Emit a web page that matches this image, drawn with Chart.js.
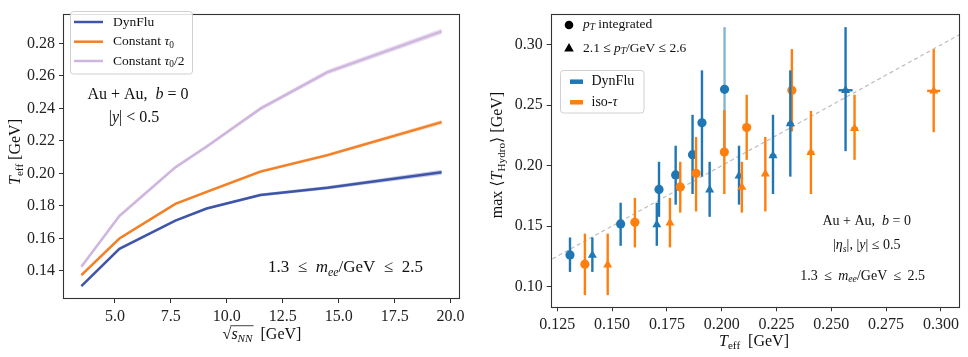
<!DOCTYPE html>
<html><head><meta charset="utf-8">
<script src="https://cdn.jsdelivr.net/npm/chart.js@4.4.1/dist/chart.umd.min.js"></script>
<style>
html,body{margin:0;padding:0;background:#fff;}
#wrap{position:relative;width:968px;height:357px;overflow:hidden;}
#c1{position:absolute;left:0;top:0;}
#c2{position:absolute;left:480px;top:0;}
</style></head><body>
<div id="wrap">
<canvas id="c1" width="480" height="357" style="width:480px;height:357px"></canvas>
<canvas id="c2" width="488" height="357" style="width:488px;height:357px"></canvas>
</div>
<script>
// ---------------- DATA (left panel) ----------------
const energies   = [3.5, 5.2, 7.7, 9.1, 11.5, 14.5, 19.6];
const tDynFlu    = [0.1306, 0.1536, 0.1709, 0.1784, 0.1867, 0.1912, 0.2007];
const tConst     = [0.1374, 0.1599, 0.1812, 0.1886, 0.2011, 0.2112, 0.2315];
const tConstHalf = [0.1426, 0.1738, 0.2037, 0.2165, 0.2398, 0.2623, 0.2874];
const bandDynFlu    = [0.0005, 0.0006, 0.0007, 0.0008, 0.0009, 0.0011, 0.0015];
const bandConst     = [0.0005, 0.0006, 0.0007, 0.0008, 0.0009, 0.0010, 0.0013];
const bandConstHalf = [0.0007, 0.0008, 0.0009, 0.0010, 0.0012, 0.0014, 0.0018];
const xTicksL = [5.0, 7.5, 10.0, 12.5, 15.0, 17.5, 20.0];
const yTicksL = [0.14, 0.16, 0.18, 0.20, 0.22, 0.24, 0.26, 0.28];

// ---------------- DATA (right panel) ----------------
const dynCircT  = [0.1308, 0.1539, 0.1714, 0.1790, 0.1867, 0.1910, 0.2013];
const dynCircY  = [0.1261, 0.1517, 0.1803, 0.1923, 0.2091, 0.2355, 0.2632];
const dynCircLo = [0.1120, 0.1336, 0.1576, 0.1677, 0.1765, 0.1909, 0.2117];
const dynCircHi = [0.1405, 0.1693, 0.2032, 0.2165, 0.2421, 0.2789, 0.3147];

const dynTriT   = [0.1410, 0.1704, 0.1945, 0.2079, 0.2234, 0.2313, 0.2565];
const dynTriY   = [0.1259, 0.1512, 0.1800, 0.1915, 0.2083, 0.2347, 0.2624];
const dynTriLo  = [0.1120, 0.1336, 0.1576, 0.1677, 0.1765, 0.1909, 0.2120];
const dynTriHi  = [0.1405, 0.1693, 0.2032, 0.2165, 0.2421, 0.2789, 0.3147];
const dynTriXerr= [0, 0, 0, 0, 0.0015, 0.0015, 0.0032];

const isoCircT  = [0.1376, 0.1604, 0.1811, 0.1883, 0.2012, 0.2114, 0.2320];
const isoCircY  = [0.1184, 0.1531, 0.1824, 0.1936, 0.2112, 0.2315, 0.2624];
const isoCircLo = [0.0928, 0.1323, 0.1611, 0.1621, 0.1765, 0.2048, 0.2283];
const isoCircHi = [0.1437, 0.1733, 0.2032, 0.2237, 0.2459, 0.2587, 0.2965];

const isoTriT   = [0.1480, 0.1764, 0.2092, 0.2199, 0.2407, 0.2606, 0.2967];
const isoTriY   = [0.1179, 0.1525, 0.1821, 0.1931, 0.2109, 0.2309, 0.2619];
const isoTriLo  = [0.0928, 0.1323, 0.1611, 0.1621, 0.1765, 0.2048, 0.2277];
const isoTriHi  = [0.1437, 0.1733, 0.2032, 0.2237, 0.2453, 0.2587, 0.2965];
const isoTriXerr= [0, 0, 0, 0, 0.0015, 0.0015, 0.0030];

const diagonal = [0.12, 0.31];
const xTicksR = [0.125, 0.150, 0.175, 0.200, 0.225, 0.250, 0.275, 0.300];
const yTicksR = [0.10, 0.15, 0.20, 0.25, 0.30];

// ---------------- helpers ----------------
const SERIF = '"Liberation Serif", "DejaVu Serif", serif';
function rich(ctx, segs, x, y, align, size) {
  let w = 0;
  const parts = segs.map(s => {
    const [t, st, over] = s;
    const sub = st[0] === 's';
    const fs = sub ? size * 0.7 : size;
    const it = st.endsWith('i');
    const font = (it ? 'italic ' : '') + fs.toFixed(1) + 'px ' + SERIF;
    ctx.font = font;
    const wd = ctx.measureText(t).width;
    w += wd;
    return {t, font, wd, dy: sub ? size * 0.28 : 0, over};
  });
  let cx = align === 'center' ? x - w / 2 : (align === 'right' ? x - w : x);
  ctx.textBaseline = 'middle';
  ctx.textAlign = 'left';
  let ovStart = null, ovEnd = null;
  parts.forEach(p => {
    ctx.font = p.font;
    ctx.fillText(p.t, cx, y + p.dy);
    if (p.over) { if (ovStart === null) ovStart = cx; ovEnd = cx + p.wd; }
    cx += p.wd;
  });
  if (ovStart !== null) {
    ctx.save(); ctx.lineWidth = 0.8; ctx.strokeStyle = ctx.fillStyle;
    ctx.beginPath(); ctx.moveTo(ovStart - 1, y - size * 0.58); ctx.lineTo(ovEnd + 1, y - size * 0.58); ctx.stroke();
    ctx.restore();
  }
  return w;
}
function richRot(ctx, segs, x, y, size) {
  ctx.save(); ctx.translate(x, y); ctx.rotate(-Math.PI / 2);
  rich(ctx, segs, 0, 0, 'center', size);
  ctx.restore();
}
const framePlugin = {
  id: 'frame',
  afterDatasetsDraw(chart) {
    const a = chart.chartArea, ctx = chart.ctx;
    ctx.save(); ctx.strokeStyle = '#333'; ctx.lineWidth = 1.1;
    ctx.strokeRect(Math.round(a.left) + 0.5, Math.round(a.top) + 0.5, Math.round(a.right - a.left) - 1, Math.round(a.bottom - a.top) - 1);
    ctx.restore();
  }
};
function axisCommon(min, max, ticks, fmt, isX, size) {
  return {
    type: 'linear', min, max,
    afterBuildTicks: s => { s.ticks = ticks.map(v => ({value: v})); },
    afterFit: s => { if (isX) s.height = size; else s.width = size; },
    ticks: { font: {family: SERIF, size: 16}, color: '#222', padding: 4, maxRotation: 0, autoSkip: false, callback: v => v.toFixed(fmt) },
    grid: { display: true, drawOnChartArea: false, drawTicks: true, tickLength: 4, tickColor: '#333', tickWidth: 1 },
    border: { display: false }
  };
}

// ---------------- LEFT CHART ----------------
const cBlue = '#3f56a8', cOrange = '#f37f26', cLav = '#cfb6de';
function pts(ys, d, sign) { return energies.map((e, i) => ({x: e, y: ys[i] + (d ? sign * d[i] : 0)})); }
function bandSets(ys, band, col, ord) {
  return [
    {data: pts(ys, band, -1), borderWidth: 0, pointRadius: 0, fill: false, order: ord},
    {data: pts(ys, band, 1), borderWidth: 0, pointRadius: 0, fill: '-1', backgroundColor: col, order: ord}
  ];
}
const leftAnnot = {
  id: 'leftAnnot',
  afterDraw(chart) {
    const ctx = chart.ctx;
    ctx.save();
    ctx.fillStyle = '#111';
    // axis titles
    richRot(ctx, [['T', 'i'], ['eff', 'sr'], [' [GeV]', 'r']], 16, 152, 16);
    rich(ctx, [['√', 'r'], ['s', 'i', true], ['NN', 'si', true], ['  [GeV]', 'r']], 262, 335, 'center', 16);
    // annotations
    rich(ctx, [['Au + Au,  ', 'r'], ['b', 'i'], [' = 0', 'r']], 138, 95, 'center', 16);
    rich(ctx, [['|', 'r'], ['y', 'i'], ['| < 0.5', 'r']], 134, 118, 'center', 16);
    rich(ctx, [['1.3  ≤  ', 'r'], ['m', 'i'], ['ee', 'si'], ['/GeV  ≤  2.5', 'r']], 345.5, 268, 'center', 17);
    // legend box
    ctx.fillStyle = 'rgba(255,255,255,0.85)';
    ctx.strokeStyle = '#d0d0d0'; ctx.lineWidth = 1;
    ctx.beginPath(); ctx.roundRect(70.5, 11.5, 122, 62.5, 3); ctx.fill(); ctx.stroke();
    const items = [
      [cBlue, [['DynFlu', 'r']]],
      [cOrange, [['Constant ', 'r'], ['τ', 'i'], ['0', 'sr']]],
      [cLav, [['Constant ', 'r'], ['τ', 'i'], ['0', 'sr'], ['/2', 'r']]]
    ];
    const ys = [22, 41.7, 61];
    items.forEach((it, i) => {
      ctx.strokeStyle = it[0]; ctx.lineWidth = 2.5;
      ctx.beginPath(); ctx.moveTo(74, ys[i]); ctx.lineTo(103, ys[i]); ctx.stroke();
      ctx.fillStyle = '#111';
      rich(ctx, it[1], 113, ys[i], 'left', 13.5);
    });
    ctx.restore();
  }
};
new Chart(document.getElementById('c1'), {
  type: 'line',
  data: {
    datasets: [
      {data: pts(tDynFlu), borderColor: cBlue, borderWidth: 2.5, pointRadius: 0, fill: false, order: 1},
      {data: pts(tConst), borderColor: cOrange, borderWidth: 2.5, pointRadius: 0, fill: false, order: 2},
      {data: pts(tConstHalf), borderColor: cLav, borderWidth: 2.5, pointRadius: 0, fill: false, order: 3},
      ...bandSets(tDynFlu, bandDynFlu, 'rgba(63,86,168,0.3)', 4),
      ...bandSets(tConst, bandConst, 'rgba(243,127,38,0.3)', 5),
      ...bandSets(tConstHalf, bandConstHalf, 'rgba(207,182,222,0.45)', 6)
    ]
  },
  options: {
    responsive: false, animation: false,
    layout: {padding: {top: 5, right: 20, left: 0, bottom: 0}},
    plugins: {legend: {display: false}, tooltip: {enabled: false}},
    elements: {line: {tension: 0}},
    scales: {
      x: axisCommon(2.68, 20.42, xTicksL, 1, true, 58),
      y: axisCommon(0.1227, 0.2983, yTicksL, 2, false, 63)
    }
  },
  plugins: [framePlugin, leftAnnot]
});

// ---------------- RIGHT CHART ----------------
const rBlue = '#1f77b4', rOrange = '#ff7f0e';
function sc(t, y) { return t.map((v, i) => ({x: v, y: y[i]})); }
const errInfo = [
  {lo: dynCircLo, hi: dynCircHi, xerr: null, col: rBlue, light: [6]},
  {lo: isoCircLo, hi: isoCircHi, xerr: null, col: rOrange, light: []},
  {lo: dynTriLo, hi: dynTriHi, xerr: dynTriXerr, col: rBlue, light: []},
  {lo: isoTriLo, hi: isoTriHi, xerr: isoTriXerr, col: rOrange, light: []}
];
const errPlugin = {
  id: 'errbars',
  beforeDatasetDraw(chart, args) {
    const ds = chart.data.datasets[args.index];
    if (ds.errIdx === undefined) return;
    const info = errInfo[ds.errIdx];
    const xs = chart.scales.x, ys = chart.scales.y, ctx = chart.ctx;
    ctx.save();
    ctx.lineWidth = 2.4; ctx.lineCap = 'butt';
    ds.data.forEach((p, i) => {
      const px = xs.getPixelForValue(p.x);
      ctx.strokeStyle = info.light.includes(i) ? 'rgba(31,119,180,0.55)' : info.col;
      ctx.beginPath();
      ctx.moveTo(px, ys.getPixelForValue(info.lo[i]));
      ctx.lineTo(px, ys.getPixelForValue(info.hi[i]));
      ctx.stroke();
      if (info.xerr && info.xerr[i] > 0) {
        const py = ys.getPixelForValue(p.y);
        ctx.beginPath();
        ctx.moveTo(xs.getPixelForValue(p.x - info.xerr[i]), py);
        ctx.lineTo(xs.getPixelForValue(p.x + info.xerr[i]), py);
        ctx.stroke();
      }
    });
    ctx.restore();
  }
};
const rightAnnot = {
  id: 'rightAnnot',
  afterDraw(chart) {
    const ctx = chart.ctx;
    ctx.save();
    ctx.fillStyle = '#111';
    richRot(ctx, [['max ', 'r'], ['⟨', 'r'], ['T', 'i'], ['Hydro', 'sr'], ['⟩', 'r'], [' [GeV]', 'r']], 18, 155, 16);
    rich(ctx, [['T', 'i'], ['eff', 'sr'], ['  [GeV]', 'r']], 274, 342, 'center', 16);
    rich(ctx, [['Au + Au,  ', 'r'], ['b', 'i'], [' = 0', 'r']], 386.7, 221.7, 'center', 14);
    rich(ctx, [['|', 'r'], ['η', 'i'], ['s', 'si'], ['|, |', 'r'], ['y', 'i'], ['| ≤ 0.5', 'r']], 386.7, 245.7, 'center', 14);
    rich(ctx, [['1.3 \u2009≤\u2009 ', 'r'], ['m', 'i'], ['ee', 'si'], ['/GeV \u2009≤\u2009 2.5', 'r']], 382.7, 276, 'center', 14);
    // marker legend
    ctx.fillStyle = '#000';
    ctx.beginPath(); ctx.arc(89, 25, 4.3, 0, Math.PI * 2); ctx.fill();
    ctx.beginPath(); ctx.moveTo(89, 43); ctx.lineTo(93.8, 51.5); ctx.lineTo(84.2, 51.5); ctx.closePath(); ctx.fill();
    ctx.fillStyle = '#111';
    rich(ctx, [['p', 'i'], ['T', 'si'], [' integrated', 'r']], 103, 24, 'left', 13.5);
    rich(ctx, [['2.1 ≤ ', 'r'], ['p', 'i'], ['T', 'si'], ['/GeV ≤ 2.6', 'r']], 103, 48, 'left', 13.5);
    // box legend
    ctx.fillStyle = 'rgba(255,255,255,0.85)';
    ctx.strokeStyle = '#d0d0d0'; ctx.lineWidth = 1;
    ctx.beginPath(); ctx.roundRect(80.5, 70.5, 83.5, 42.5, 3); ctx.fill(); ctx.stroke();
    [[rBlue, [['DynFlu', 'r']], 81.7], [rOrange, [['iso-', 'r'], ['τ', 'i']], 102.3]].forEach(it => {
      ctx.strokeStyle = it[0]; ctx.lineWidth = 4.5;
      ctx.beginPath(); ctx.moveTo(90, it[2]); ctx.lineTo(103, it[2]); ctx.stroke();
      ctx.fillStyle = '#111';
      rich(ctx, it[1], 111.5, it[2], 'left', 14);
    });
    ctx.restore();
  }
};
new Chart(document.getElementById('c2'), {
  type: 'scatter',
  data: {
    datasets: [
      {type: 'line', data: diagonal.map(v => ({x: v, y: v})), borderColor: '#bdbdbd', borderWidth: 1.2, borderDash: [4, 3], pointRadius: 0, fill: false, order: 10},
      {data: sc(dynCircT, dynCircY), errIdx: 0, pointStyle: 'circle', pointRadius: 4.6, backgroundColor: rBlue, borderColor: rBlue, borderWidth: 0, order: 4},
      {data: sc(isoCircT, isoCircY), errIdx: 1, pointStyle: 'circle', pointRadius: 4.6, backgroundColor: rOrange, borderColor: rOrange, borderWidth: 0, order: 3},
      {data: sc(dynTriT, dynTriY), errIdx: 2, pointStyle: 'triangle', pointRadius: 5.2, backgroundColor: rBlue, borderColor: rBlue, borderWidth: 0, order: 2},
      {data: sc(isoTriT, isoTriY), errIdx: 3, pointStyle: 'triangle', pointRadius: 5.2, backgroundColor: rOrange, borderColor: rOrange, borderWidth: 0, order: 1}
    ]
  },
  options: {
    responsive: false, animation: false,
    layout: {padding: {top: 3.3, right: 8, left: 0, bottom: 0}},
    plugins: {legend: {display: false}, tooltip: {enabled: false}},
    scales: {
      x: axisCommon(0.122, 0.3087, xTicksR, 3, true, 49.7),
      y: axisCommon(0.0827, 0.3259, yTicksR, 2, false, 70.7)
    }
  },
  plugins: [errPlugin, framePlugin, rightAnnot]
});
</script>
</body></html>
